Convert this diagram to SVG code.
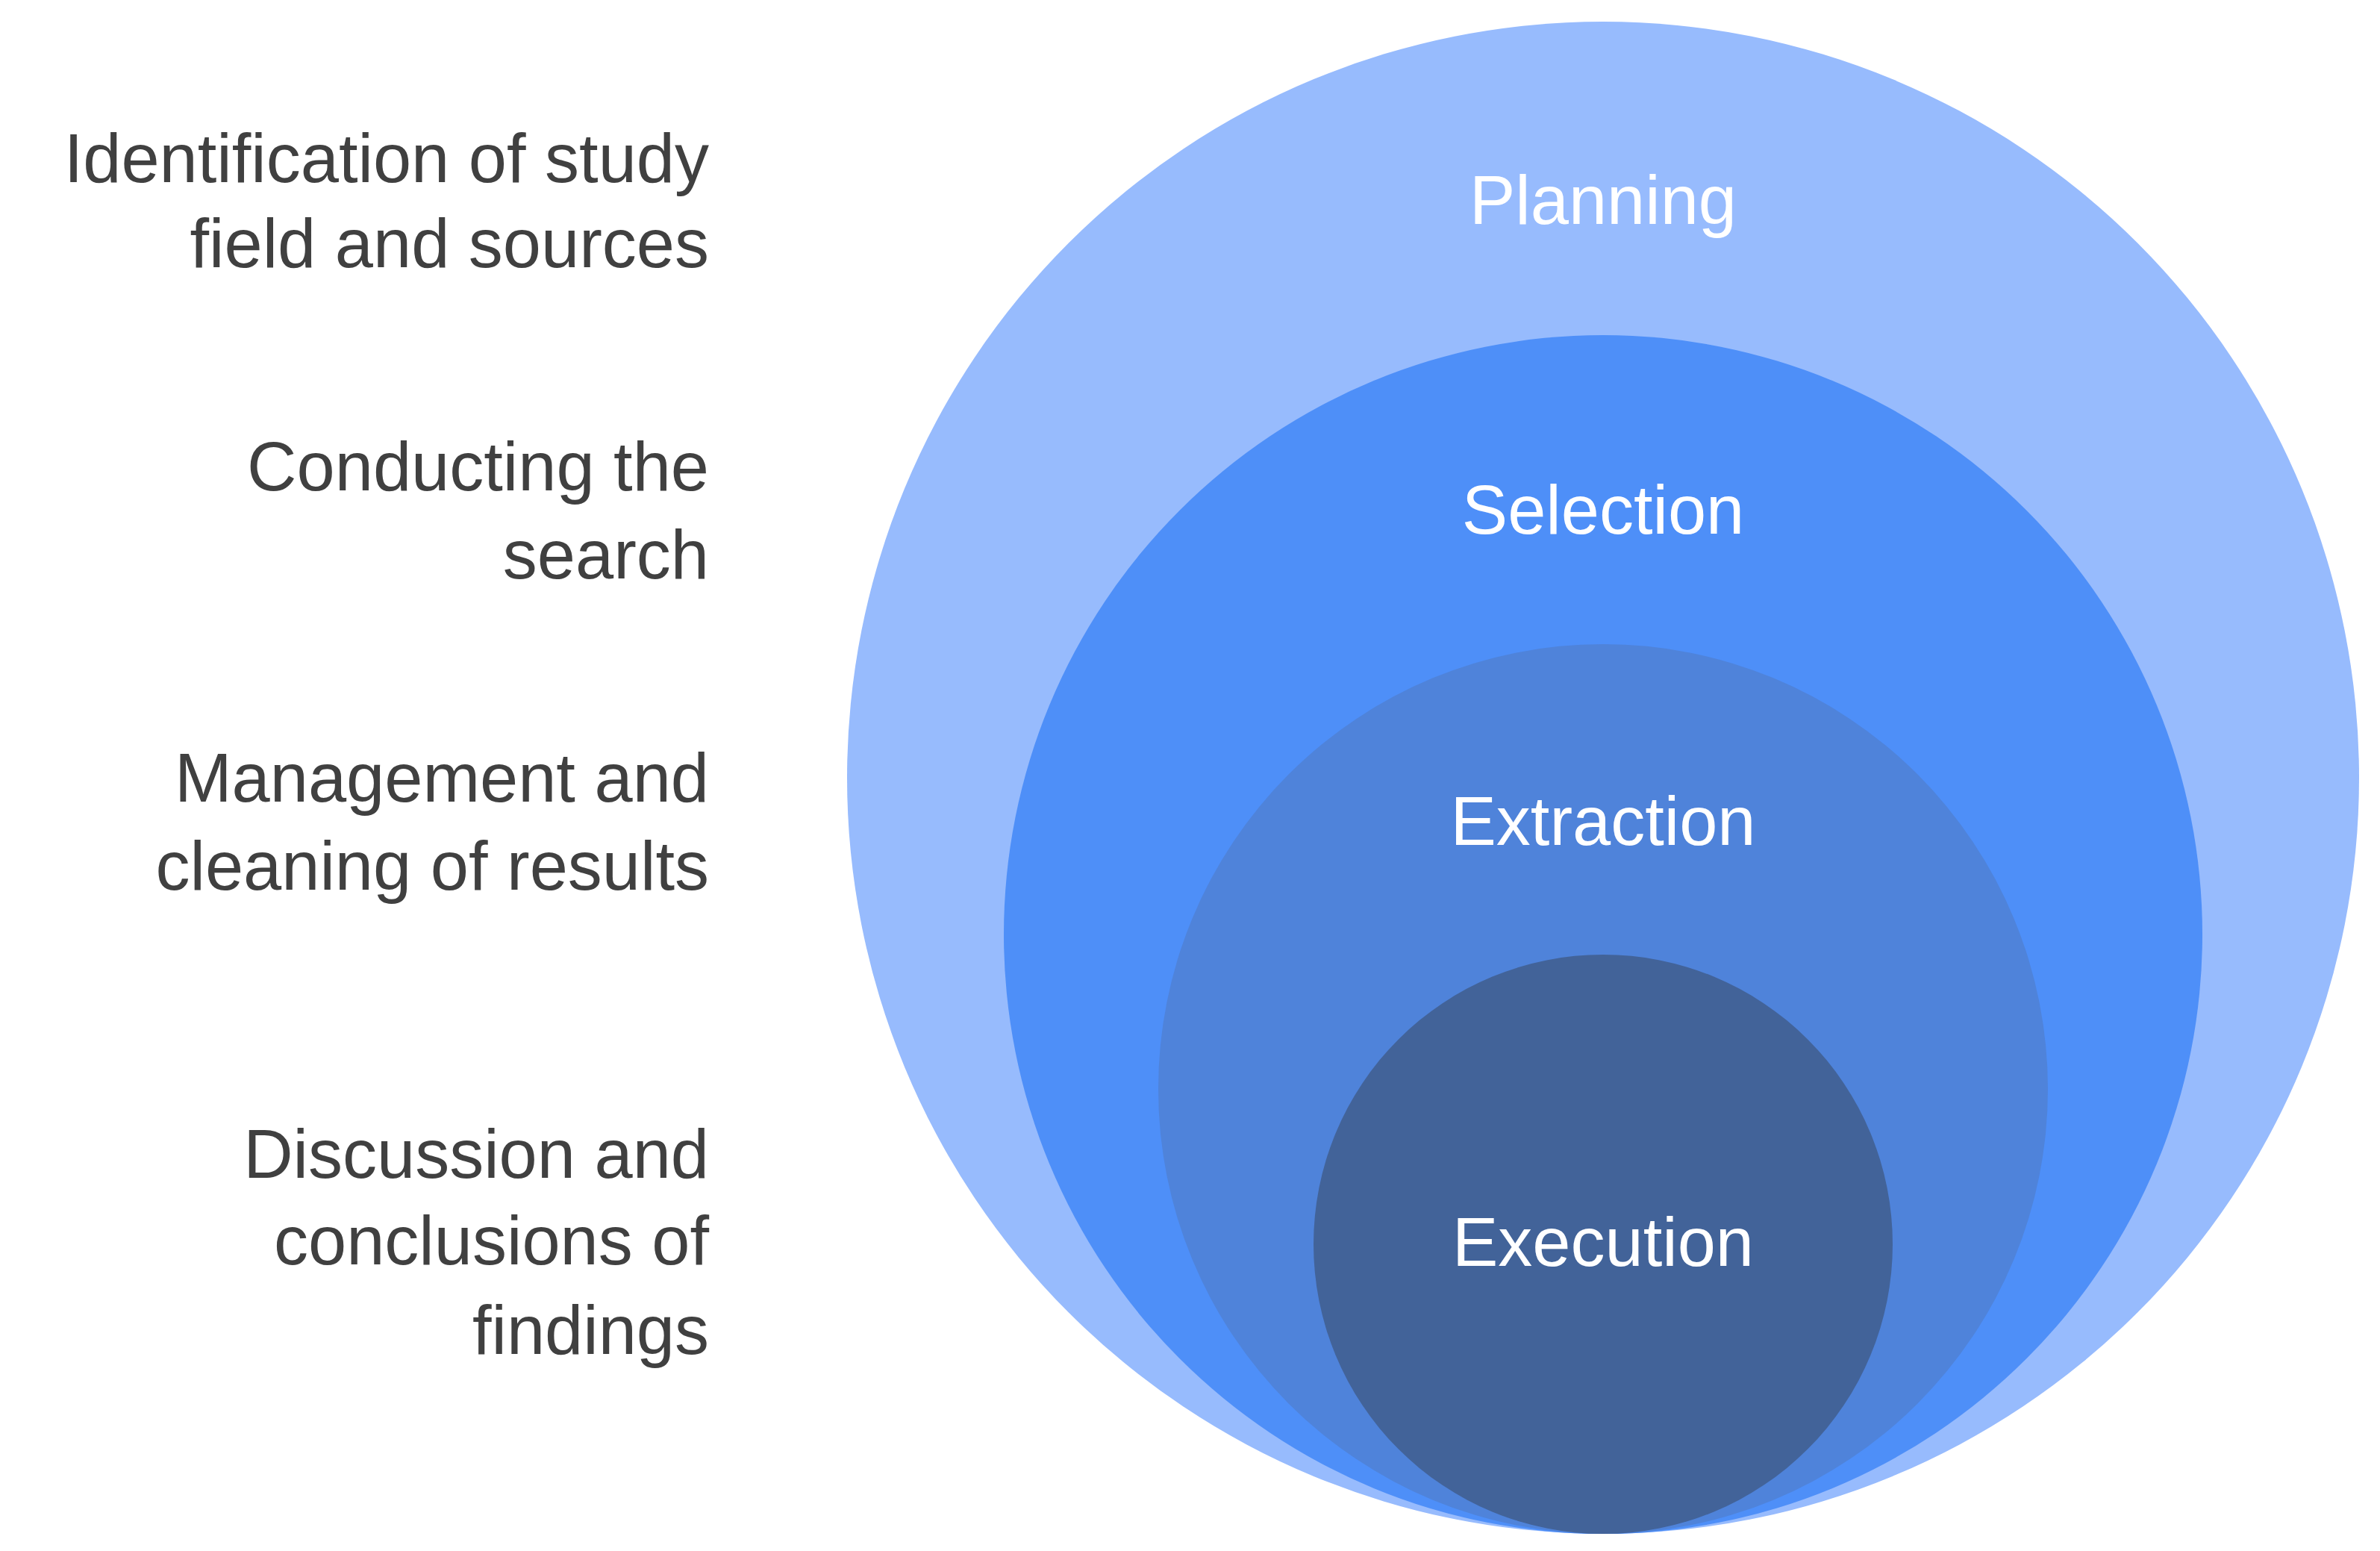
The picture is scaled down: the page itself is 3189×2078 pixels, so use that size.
<svg xmlns="http://www.w3.org/2000/svg" width="3189" height="2078" viewBox="0 0 3189 2078">
<style>
.lbl{font-family:"Liberation Sans",Arial,sans-serif;font-size:92px;fill:#404040;text-anchor:end}
.in{font-family:"Liberation Sans",Arial,sans-serif;font-size:92px;fill:#ffffff;text-anchor:middle;dominant-baseline:central}
</style>
<rect width="3189" height="2078" fill="#ffffff"/>
<g id="planning"><circle cx="2148" cy="1042" r="1013" fill="#97BBFD"/><text class="in" x="2148" y="268">Planning</text></g>
<g id="selection"><circle cx="2148" cy="1252" r="803" fill="#4E8FF8"/><text class="in" x="2148" y="683">Selection</text></g>
<g id="extraction"><circle cx="2148" cy="1459" r="596" fill="#4F83DA"/><text class="in" x="2148" y="1100">Extraction</text></g>
<g id="execution"><circle cx="2148" cy="1667" r="388" fill="#426399"/><text class="in" x="2148" y="1664">Execution</text></g>
<g id="connectors"></g>
<g id="label1"><text class="lbl" x="950" y="244">Identification of study</text><text class="lbl" x="950" y="358">field and sources</text></g>
<g id="label2"><text class="lbl" x="950" y="657">Conducting the</text><text class="lbl" x="950" y="775">search</text></g>
<g id="label3"><text class="lbl" x="950" y="1074">Management and</text><text class="lbl" x="950" y="1192">cleaning of results</text></g>
<g id="label4"><text class="lbl" x="950" y="1578">Discussion and</text><text class="lbl" x="950" y="1694">conclusions of</text><text class="lbl" x="950" y="1814">findings</text></g>
</svg>
